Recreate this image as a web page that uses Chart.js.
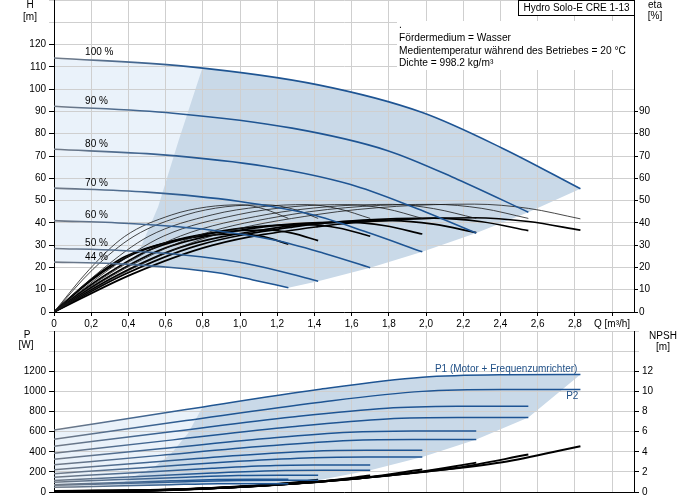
<!DOCTYPE html>
<html>
<head>
<meta charset="utf-8">
<script src="https://cdn.jsdelivr.net/npm/chart.js@4.4.1/dist/chart.umd.min.js"></script>
<style>
  html, body { margin: 0; padding: 0; background: #fff; }
  #wrap { position: relative; width: 691px; height: 500px; overflow: hidden; }
  canvas { position: absolute; left: 0; }
  #topChart { top: 0; }
  #bottomChart { top: 330px; }
</style>
</head>
<body>
<div id="wrap">
  <canvas id="topChart" width="691" height="332"></canvas>
  <canvas id="bottomChart" width="691" height="170"></canvas>
</div>
<script>
// speeds, one row per speed in every table below
const speedLabels = ['100 %', '90 %', '80 %', '70 %', '60 %', '50 %', '44 %'];

// tick values / labels
const xTickValues = [0, 0.2, 0.4, 0.6, 0.8, 1.0, 1.2, 1.4, 1.6, 1.8, 2.0, 2.2, 2.4, 2.6, 2.8, 3.0];
const xTickLabels = ['0', '0,2', '0,4', '0,6', '0,8', '1,0', '1,2', '1,4', '1,6', '1,8', '2,0', '2,2', '2,4', '2,6', '2,8', 'Q [m³/h]'];
const hTickValues = [0, 10, 20, 30, 40, 50, 60, 70, 80, 90, 100, 110, 120, 130, 140];
const hTickLabels = ['0', '10', '20', '30', '40', '50', '60', '70', '80', '90', '100', '110', '120', '', ''];
const etaTickValues = [0, 10, 20, 30, 40, 50, 60, 70, 80, 90];
const etaTickLabels = ['0', '10', '20', '30', '40', '50', '60', '70', '80', '90'];
const pTickValues = [0, 200, 400, 600, 800, 1000, 1200, 1400, 1600];
const pTickLabels = ['0', '200', '400', '600', '800', '1000', '1200', '', ''];
const npshTickValues = [0, 2, 4, 6, 8, 10, 12, 14, 16];
const npshTickLabels = ['0', '2', '4', '6', '8', '10', '12', '', ''];

// flow points for H, P1, P2, NPSH curves [m³/h]
const qCurve = [
  [0, 0.71, 1.42, 1.98, 2.41, 2.83],
  [0, 0.64, 1.28, 1.79, 2.17, 2.55],
  [0, 0.57, 1.14, 1.59, 1.93, 2.27],
  [0, 0.50, 0.99, 1.39, 1.68, 1.98],
  [0, 0.43, 0.85, 1.19, 1.45, 1.70],
  [0, 0.36, 0.71, 0.99, 1.21, 1.42],
  [0, 0.32, 0.63, 0.88, 1.07, 1.26]
];
// head [m]
const headH = [
  [114, 110.2, 101.9, 89.5, 73.5, 55.3],
  [92.3, 89.2, 82.5, 72.5, 59.5, 44.8],
  [73, 70.6, 65.3, 57.3, 47.1, 35.4],
  [55.6, 53.8, 49.7, 43.6, 35.9, 27.0],
  [41, 39.6, 36.7, 32.2, 26.4, 19.9],
  [28.5, 27.6, 25.5, 22.4, 18.4, 13.8],
  [22.4, 21.7, 20.0, 17.6, 14.4, 10.9]
];
// flow points for efficiency curves [m³/h]
const qEta = [
  [0, 0.42, 0.85, 1.42, 1.84, 2.26, 2.55, 2.83],
  [0, 0.38, 0.77, 1.28, 1.66, 2.04, 2.30, 2.55],
  [0, 0.34, 0.68, 1.14, 1.48, 1.82, 2.04, 2.27],
  [0, 0.30, 0.59, 0.99, 1.29, 1.58, 1.78, 1.98],
  [0, 0.26, 0.51, 0.85, 1.11, 1.36, 1.53, 1.70],
  [0, 0.21, 0.43, 0.71, 0.92, 1.14, 1.28, 1.42],
  [0, 0.19, 0.38, 0.63, 0.82, 1.01, 1.13, 1.26]
];
// pump efficiency [%] (thin)
const etaPump = [
  [0, 19.4, 34.2, 43.8, 47.4, 48.4, 46.5, 41.8],
  [0, 19.4, 34.2, 43.8, 47.4, 48.3, 46.5, 42.0],
  [0, 19.3, 34.1, 43.7, 47.3, 48.3, 46.4, 42.0],
  [0, 19.3, 34.1, 43.7, 47.3, 48.2, 46.4, 42.0],
  [0, 19.2, 34.0, 43.6, 47.2, 48.2, 46.3, 42.0],
  [0, 19.2, 34.0, 43.6, 47.2, 48.1, 46.3, 42.0],
  [0, 19.1, 33.9, 43.5, 47.1, 48.1, 46.2, 42.0]
];
// total efficiency [%] (thick)
const etaTotal = [
  [0, 17.0, 29.9, 38.3, 41.4, 42.3, 40.6, 36.7],
  [0, 16.9, 29.8, 38.1, 41.2, 42.1, 40.5, 36.5],
  [0, 16.5, 29.0, 37.1, 40.2, 41.0, 39.4, 35.6],
  [0, 16.2, 28.5, 36.5, 39.5, 40.3, 38.7, 35.0],
  [0, 15.7, 27.7, 35.5, 38.4, 39.2, 37.7, 34.0],
  [0, 14.8, 26.1, 33.4, 36.1, 36.8, 35.4, 32.0],
  [0, 14.0, 24.8, 31.7, 34.3, 35.0, 33.7, 30.4]
];
// P1 motor + converter [W]
const powerP1 = [
  [615, 820, 1019, 1140, 1165, 1168],
  [455, 602, 746, 833, 851, 853],
  [325, 429, 531, 593, 606, 607],
  [222, 293, 363, 405, 414, 415],
  [147, 192, 236, 263, 268, 269],
  [97, 123, 147, 163, 166, 166],
  [72, 92, 111, 123, 126, 126]
];
// P2 shaft [W]
const powerP2 = [
  [524, 710, 890, 1000, 1019, 1019],
  [385, 518, 648, 726, 740, 740],
  [270, 364, 456, 511, 521, 521],
  [182, 244, 305, 341, 348, 348],
  [114, 152, 189, 212, 216, 216],
  [66, 85, 103, 114, 116, 116],
  [46, 60, 73, 82, 83, 83]
];
// NPSH [m]
const npsh = [
  [0.10, 0.30, 1.00, 2.00, 2.95, 4.55],
  [0.08, 0.24, 0.82, 1.64, 2.42, 3.72],
  [0.06, 0.19, 0.64, 1.28, 1.90, 2.92],
  [0.05, 0.14, 0.49, 0.98, 1.45, 2.23],
  [0.04, 0.11, 0.36, 0.72, 1.06, 1.63],
  [0.03, 0.08, 0.27, 0.54, 0.80, 1.23],
  [0.02, 0.06, 0.20, 0.40, 0.59, 0.90]
];
// left edge of the darker operating area
const areaEdgeQ = [0.80, 0.67, 0.56, 0.46, 0.40];
const areaEdgeH = [110, 77, 47.2, 27.8, 21];
const areaEdgePQ = [0.80, 0.72, 0.63, 0.54, 0.41, 0.34];
const areaEdgeP = [850, 581, 382, 249, 133, 60];

Chart.defaults.font.family = '"Liberation Sans", Arial, sans-serif';
Chart.defaults.font.size = 10;
Chart.defaults.color = '#000';

const GRID = '#cfcfcf';
const DARK = '#c9d9e8';
const LIGHT = '#eaf2fa';
const TEXT_BLUE = '#1f4f86';

function blueLine(c) {
  const area = c.chart.chartArea;
  if (!area) return '#1d5490';
  const g = c.chart.ctx.createLinearGradient(area.left, 0, area.right, 0);
  g.addColorStop(0, '#737b87');
  g.addColorStop(0.13, '#4a6a90');
  g.addColorStop(0.26, '#1f5592');
  g.addColorStop(1, '#1c5394');
  return g;
}

function series(qs, vs) {
  return qs.map((q, k) => ({x: q, y: vs[k]}));
}

function lineSet(qs, vs, color, width, axis) {
  return {
    data: series(qs, vs),
    borderColor: color,
    borderWidth: width,
    yAxisID: axis,
    pointRadius: 0,
    pointHoverRadius: 0,
    fill: false,
    cubicInterpolationMode: 'monotone'
  };
}

function xScale(showLabels) {
  return {
    type: 'linear', min: 0, max: 3.118,
    afterBuildTicks: s => { s.ticks = xTickValues.map(v => ({value: v})); },
    afterFit: s => { s.height = showLabels ? 20 : 8; s.paddingLeft = 0; s.paddingRight = 0; },
    grid: {color: GRID, tickLength: 4, tickColor: '#000', drawTicks: showLabels},
    border: {color: '#000'},
    ticks: {display: showLabels, maxRotation: 0, autoSkip: false, padding: 2, callback: (v, i) => xTickLabels[i]}
  };
}

function yScale(pos, max, values, labels, width, tickLen, pad, onArea) {
  return {
    type: 'linear', position: pos, min: 0, max: max,
    afterBuildTicks: s => { s.ticks = values.map(v => ({value: v})); },
    afterFit: s => { s.width = width; s.paddingTop = 0; s.paddingBottom = 0; },
    grid: {drawOnChartArea: onArea, color: GRID, tickLength: tickLen,
      tickColor: c => labels[c.index] ? '#000' : GRID},
    border: {color: '#000'},
    ticks: {padding: pad, autoSkip: false, callback: (v, i) => labels[i]}
  };
}

// follow a drawn curve (monotone bezier) forwards or backwards
function traceLine(ctx, pts, reverse) {
  if (!reverse) {
    for (let i = 1; i < pts.length; i++) {
      const p = pts[i - 1], c = pts[i];
      ctx.bezierCurveTo(p.cp2x, p.cp2y, c.cp1x, c.cp1y, c.x, c.y);
    }
  } else {
    for (let i = pts.length - 1; i > 0; i--) {
      const p = pts[i], c = pts[i - 1];
      ctx.bezierCurveTo(p.cp1x, p.cp1y, c.cp2x, c.cp2y, c.x, c.y);
    }
  }
}

function regionPath(chart, upper, edges, lower) {
  const ctx = chart.ctx;
  [upper, lower].concat(edges).forEach(j => chart.getDatasetMeta(j).dataset.updateControlPoints(chart.chartArea, 'x'));
  const up = chart.getDatasetMeta(upper).data;
  const lo = chart.getDatasetMeta(lower).data;
  ctx.beginPath();
  ctx.moveTo(up[0].x, up[0].y);
  traceLine(ctx, up, false);
  edges.forEach(j => {
    const d = chart.getDatasetMeta(j).data;
    ctx.lineTo(d[d.length - 1].x, d[d.length - 1].y);
  });
  ctx.lineTo(lo[lo.length - 1].x, lo[lo.length - 1].y);
  traceLine(ctx, lo, true);
  ctx.closePath();
}

function shadePlugin(upper, edges, lower, edgeQ, edgeV) {
  return {
    id: 'shade',
    beforeDraw(chart) {
      const ctx = chart.ctx, a = chart.chartArea;
      const xs = chart.scales.x, ys = chart.scales.y;
      ctx.save();
      regionPath(chart, upper, edges, lower);
      ctx.fillStyle = DARK;
      ctx.fill();
      ctx.restore();
      ctx.save();
      ctx.beginPath();
      ctx.moveTo(a.left, a.top);
      ctx.lineTo(xs.getPixelForValue(edgeQ[0]), a.top);
      edgeQ.forEach((q, k) => ctx.lineTo(xs.getPixelForValue(q), ys.getPixelForValue(edgeV[k])));
      ctx.lineTo(xs.getPixelForValue(edgeQ[edgeQ.length - 1]), a.bottom);
      ctx.lineTo(a.left, a.bottom);
      ctx.closePath();
      ctx.clip();
      regionPath(chart, upper, edges, lower);
      ctx.fillStyle = LIGHT;
      ctx.fill();
      ctx.restore();
    }
  };
}

// ---------- top chart: H and eta ----------
const topSets = [];
headH.forEach((h, i) => topSets.push(lineSet(qCurve[i], h, blueLine, 1.6, 'y')));
etaPump.forEach((e, i) => topSets.push(lineSet(qEta[i], e, '#1a1a1a', 0.8, 'y2')));
etaTotal.forEach((e, i) => topSets.push(lineSet(qEta[i], e, '#000', 1.7, 'y2')));

const topText = {
  id: 'topText',
  beforeDatasetsDraw(chart) {
    const ctx = chart.ctx;
    ctx.save();
    ctx.fillStyle = '#fff';
    ctx.fillRect(397, 21, 237, 49);
    ctx.restore();
  },
  afterDraw(chart) {
    const ctx = chart.ctx;
    const xs = chart.scales.x, ys = chart.scales.y;
    ctx.save();
    ctx.font = '10px "Liberation Sans", Arial, sans-serif';
    ctx.fillStyle = '#000';
    ctx.textAlign = 'center';
    ctx.textBaseline = 'middle';
    ctx.fillText('H', 30, 5);
    ctx.fillText('[m]', 30, 17);
    ctx.fillText('eta', 655, 5);
    ctx.fillText('[%]', 655, 16);
    // product box
    ctx.fillStyle = '#fff';
    ctx.fillRect(518.5, 0.5, 116, 15);
    ctx.strokeStyle = '#000';
    ctx.lineWidth = 1;
    ctx.strokeRect(518.5, 0.5, 116, 15);
    ctx.fillStyle = '#000';
    ctx.fillText('Hydro Solo-E CRE 1-13', 576.5, 8.5);
    // medium info
    ctx.font = '10.2px "Liberation Sans", Arial, sans-serif';
    ctx.textAlign = 'left';
    ctx.fillText('.', 399, 25);
    ctx.fillText('Fördermedium = Wasser', 399, 38.5);
    ctx.fillText('Medientemperatur während des Betriebes = 20 °C', 399, 51);
    ctx.fillText('Dichte = 998.2 kg/m³', 399, 63.5);
    // speed labels
    ctx.font = '10px "Liberation Sans", Arial, sans-serif';
    ctx.textBaseline = 'alphabetic';
    speedLabels.forEach((s, i) => {
      ctx.fillText(s, xs.getPixelForValue(0.167), ys.getPixelForValue(headH[i][0]) - 2.5);
    });
    ctx.restore();
  }
};

new Chart(document.getElementById('topChart'), {
  type: 'line',
  data: {datasets: topSets},
  options: {
    responsive: false,
    animation: false,
    events: [],
    layout: {padding: 0},
    plugins: {legend: {display: false}, tooltip: {enabled: false}},
    scales: {
      x: xScale(true),
      y: yScale('left', 140, hTickValues, hTickLabels, 54, 5, 3, true),
      y2: yScale('right', 140, etaTickValues, etaTickLabels, 57, 4, 1, false)
    }
  },
  plugins: [shadePlugin(0, [1, 2, 3, 4, 5], 6, areaEdgeQ, areaEdgeH), topText]
});

// ---------- bottom chart: P1, P2 and NPSH ----------
const bottomSets = [];
powerP1.forEach((p, i) => bottomSets.push(lineSet(qCurve[i], p, blueLine, 1.5, 'y')));
powerP2.forEach((p, i) => bottomSets.push(lineSet(qCurve[i], p, blueLine, 1.5, 'y')));
npsh.forEach((n, i) => bottomSets.push(lineSet(qCurve[i], n, '#000', 2, 'y2')));

const bottomText = {
  id: 'bottomText',
  afterDraw(chart) {
    const ctx = chart.ctx;
    const xs = chart.scales.x, ys = chart.scales.y;
    ctx.save();
    ctx.font = '10px "Liberation Sans", Arial, sans-serif';
    ctx.fillStyle = '#000';
    ctx.textAlign = 'center';
    ctx.textBaseline = 'middle';
    ctx.fillText('P', 27, 5);
    ctx.fillText('[W]', 26, 15);
    ctx.fillText('NPSH', 663, 6);
    ctx.fillText('[m]', 663, 17);
    const last = powerP1[0].length - 1;
    ctx.fillStyle = TEXT_BLUE;
    ctx.textAlign = 'right';
    ctx.textBaseline = 'alphabetic';
    ctx.fillText('P1 (Motor + Frequenzumrichter)', xs.getPixelForValue(qCurve[0][last]) - 3, ys.getPixelForValue(powerP1[0][last]) - 2);
    ctx.fillText('P2', xs.getPixelForValue(qCurve[0][last]) - 2, ys.getPixelForValue(powerP2[0][last]) + 10);
    ctx.restore();
  }
};

new Chart(document.getElementById('bottomChart'), {
  type: 'line',
  data: {datasets: bottomSets},
  options: {
    responsive: false,
    animation: false,
    events: [],
    layout: {padding: {top: 1, left: 0, right: 0, bottom: 0}},
    plugins: {legend: {display: false}, tooltip: {enabled: false}},
    scales: {
      x: xScale(false),
      y: yScale('left', 1600, pTickValues, pTickLabels, 54, 5, 3, true),
      y2: yScale('right', 16, npshTickValues, npshTickLabels, 57, 5, 3, false)
    }
  },
  plugins: [shadePlugin(0, [8, 9, 10, 11, 12], 13, areaEdgePQ, areaEdgeP), bottomText]
});
</script>
</body>
</html>
